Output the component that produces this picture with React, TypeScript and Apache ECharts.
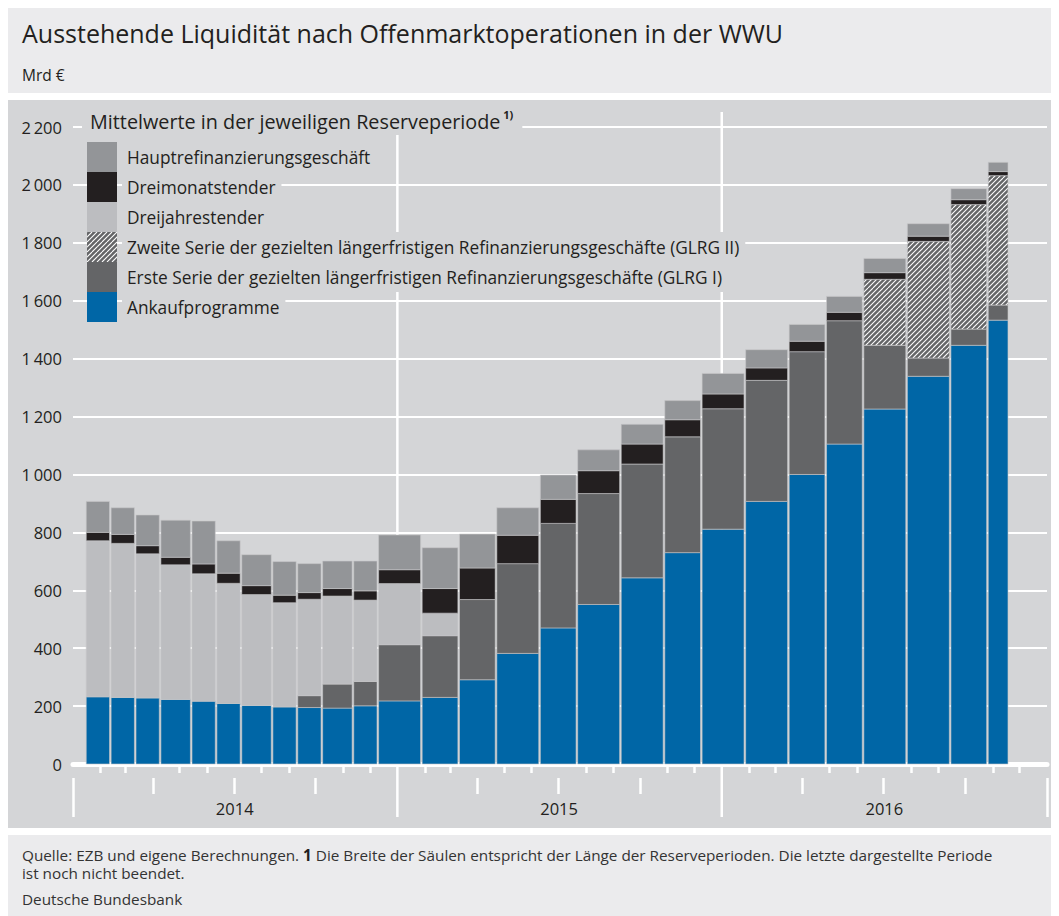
import React, { useEffect, useRef } from 'react';
import * as echarts from 'echarts';

// Reserve maintenance periods (first and last day)
const periodStart = [
  '2014-01-15', '2014-02-12', '2014-03-12', '2014-04-09', '2014-05-14', '2014-06-11',
  '2014-07-09', '2014-08-13', '2014-09-10', '2014-10-08', '2014-11-12', '2014-12-10',
  '2015-01-28', '2015-03-11', '2015-04-22', '2015-06-10', '2015-07-22', '2015-09-09',
  '2015-10-28', '2015-12-09', '2016-01-27', '2016-03-16', '2016-04-27', '2016-06-08',
  '2016-07-27', '2016-09-14', '2016-10-26',
];
const periodEnd = [
  '2014-02-11', '2014-03-11', '2014-04-08', '2014-05-13', '2014-06-10', '2014-07-08',
  '2014-08-12', '2014-09-09', '2014-10-07', '2014-11-11', '2014-12-09', '2015-01-27',
  '2015-03-10', '2015-04-21', '2015-06-09', '2015-07-21', '2015-09-08', '2015-10-27',
  '2015-12-08', '2016-01-26', '2016-03-15', '2016-04-26', '2016-06-07', '2016-07-26',
  '2016-09-13', '2016-10-25', '2016-11-18',
];

// Mrd € (averages per reserve period)
const ankaufprogramme = [
  232, 230, 228, 223, 217, 209, 202, 197, 195, 193, 201, 218,
  230, 291, 382, 470, 551, 643, 730, 811, 907, 1000, 1105, 1226, 1339, 1446, 1533,
];
const glrg1 = [
  0, 0, 0, 0, 0, 0, 0, 0, 41, 83, 84, 194,
  213, 277, 310, 361, 383, 393, 400, 416, 418, 424, 426, 220, 63, 56, 52,
];
const glrg2 = [
  0, 0, 0, 0, 0, 0, 0, 0, 0, 0, 0, 0,
  0, 0, 0, 0, 0, 0, 0, 0, 0, 0, 0, 228, 403, 430, 447,
];
const dreijahrestender = [
  539, 532, 498, 465, 440, 415, 383, 360, 333, 304, 281, 211,
  78, 0, 0, 0, 0, 0, 0, 0, 0, 0, 0, 0, 0, 0, 0,
];
const dreimonatstender = [
  29, 31, 28, 26, 34, 35, 31, 26, 23, 26, 32, 48,
  85, 109, 98, 83, 79, 69, 59, 51, 43, 36, 29, 23, 18, 17, 14,
];
const hauptrefinanzierung = [
  107, 92, 106, 128, 148, 112, 107, 116, 100, 95, 103, 120,
  141, 117, 95, 84, 72, 68, 66, 71, 63, 58, 55, 49, 43, 38, 32,
];

// bottom-to-top stacking order
const seriesNames = [
  'Ankaufprogramme',
  'Erste Serie der gezielten längerfristigen Refinanzierungsgeschäfte (GLRG I)',
  'Zweite Serie der gezielten längerfristigen Refinanzierungsgeschäfte (GLRG II)',
  'Dreijahrestender',
  'Dreimonatstender',
  'Hauptrefinanzierungsgeschäft',
];
const seriesValues = [ankaufprogramme, glrg1, glrg2, dreijahrestender, dreimonatstender, hauptrefinanzierung];
const solidColors = ['#0066a6', '#646567', null, '#bcbdc0', '#231f20', '#939598'];

const years = [2014, 2015, 2016];
const yearLabelDates = ['2014-07-02', '2015-07-02', '2016-07-02'];
const innerYearBoundaries = ['2015-01-01', '2016-01-01'];
const outerYearBoundaries = ['2014-01-01', '2017-01-01'];
const shortTickMonths = [2, 3, 5, 6, 8, 9, 11, 12];
const longTickMonths = [4, 7, 10];
const yMax = 2200;
const yInterval = 200;

const FONT = '"Open Sans", "Noto Sans", "DejaVu Sans", sans-serif';
const DAY = 86400000;

function toMs(s: string): number {
  const [y, m, d] = s.split('-').map(Number);
  return new Date(y, m - 1, d).getTime();
}

function monthTicks(months: number[]): number[] {
  const out: number[] = [];
  years.forEach((y) => months.forEach((m) => out.push(new Date(y, m - 1, 1).getTime())));
  return out;
}

function makeHatch() {
  const c = document.createElement('canvas');
  c.width = 10;
  c.height = 10;
  const ctx = c.getContext('2d')!;
  ctx.fillStyle = '#646567';
  ctx.fillRect(0, 0, 10, 10);
  ctx.strokeStyle = '#ffffff';
  ctx.lineWidth = 1.1;
  for (let k = -10; k <= 10; k += 5) {
    ctx.beginPath();
    ctx.moveTo(k, 10);
    ctx.lineTo(k + 10, 0);
    ctx.stroke();
  }
  return { image: c, repeat: 'repeat', imageWidth: 10, imageHeight: 10 } as any;
}

function fmtY(v: number): string {
  if (v >= 1000) {
    return Math.floor(v / 1000) + '\u2009' + String(v % 1000).padStart(3, '0');
  }
  return String(v);
}

function buildOption(hatch: any) {
  const xMin = toMs('2014-01-01');
  const xMax = toMs('2017-01-01');
  const colors = solidColors.map((c) => (c === null ? hatch : c));

  const cumulative = periodStart.map(() => 0);
  const barSeries = seriesNames.map((name, si) => {
    const vals = seriesValues[si];
    const data = periodStart.map((s, i) => {
      const bottom = cumulative[i];
      const top = bottom + vals[i];
      cumulative[i] = top;
      return [toMs(s), toMs(periodEnd[i]) + DAY, bottom, top];
    });
    const fill = colors[si];
    return {
      type: 'custom',
      name,
      z: 2,
      silent: true,
      itemStyle: { color: fill },
      encode: { x: [0, 1], y: [2, 3] },
      data,
      renderItem: (params: any, api: any) => {
        const b = api.value(2);
        const t = api.value(3);
        if (t - b <= 0) return null;
        const p0 = api.coord([api.value(0), t]);
        const p1 = api.coord([api.value(1), b]);
        return {
          type: 'rect',
          shape: { x: p0[0] + 0.8, y: p0[1], width: p1[0] - p0[0] - 1.6, height: p1[1] - p0[1] },
          style: { fill, stroke: '#c7c8ca', lineWidth: 0.6 },
        };
      },
    };
  });

  const yearLineSeries = {
    type: 'custom',
    name: 'Jahresgrenzen',
    z: 1,
    silent: true,
    clip: false,
    data: innerYearBoundaries.map((d) => [toMs(d), 0]),
    encode: { x: 0, y: 1 },
    renderItem: (params: any, api: any) => {
      const top = api.coord([api.value(0), yMax]);
      const bot = api.coord([api.value(0), 0]);
      return {
        type: 'line',
        shape: { x1: top[0], y1: top[1] - 15, x2: bot[0], y2: bot[1] + 53 },
        style: { stroke: '#ffffff', lineWidth: 2.5 },
      };
    },
  };

  const baseX = {
    type: 'value',
    gridIndex: 0,
    position: 'bottom',
    min: xMin,
    max: xMax,
    splitLine: { show: false },
    axisLine: { show: false },
    axisLabel: { show: false },
    axisTick: { show: false },
  };
  const tickStyle = { color: '#ffffff', width: 2.5 };

  return {
    animation: false,
    backgroundColor: '#ffffff',
    textStyle: { fontFamily: FONT },
    title: [
      {
        text: 'Ausstehende Liquidität nach Offenmarktoperationen in der WWU',
        left: 14,
        top: 12,
        padding: 0,
        textStyle: { fontFamily: FONT, fontSize: 25, fontWeight: 'normal', color: '#231f20' },
      },
      {
        text: 'Mrd €',
        left: 14,
        top: 59,
        padding: 0,
        textStyle: { fontFamily: FONT, fontSize: 15.5, fontWeight: 'normal', color: '#231f20' },
      },
      {
        text: 'Mittelwerte in der jeweiligen Reserveperiode{sup| 1)}',
        left: 74,
        top: 99,
        padding: [2, 9, 2, 8],
        backgroundColor: '#d4d5d7',
        textStyle: {
          fontFamily: FONT,
          fontSize: 19.8,
          fontWeight: 'normal',
          color: '#231f20',
          lineHeight: 24,
          rich: {
            sup: { fontFamily: FONT, fontSize: 11, fontWeight: 'bold', color: '#231f20', verticalAlign: 'top', lineHeight: 13 },
          },
        },
      },
    ],
    legend: {
      orient: 'vertical',
      left: 79,
      top: 134,
      padding: 0,
      itemGap: 0,
      itemWidth: 30,
      itemHeight: 30,
      icon: 'rect',
      selectedMode: false,
      itemStyle: { borderWidth: 0 },
      textStyle: {
        fontFamily: FONT,
        fontSize: 17.3,
        color: '#231f20',
        backgroundColor: '#d4d5d7',
        padding: [6, 6, 6, 5],
        lineHeight: 18,
      },
      data: seriesNames.slice().reverse(),
    },
    grid: { left: 65, right: 4, top: 119, bottom: 152 },
    xAxis: [
      {
        ...baseX,
        axisLine: { show: true, onZero: false, lineStyle: { color: '#ffffff', width: 5 } },
        axisLabel: {
          show: true,
          customValues: yearLabelDates.map(toMs),
          formatter: (v: number) => String(new Date(v).getFullYear()),
          margin: 36,
          fontFamily: FONT,
          fontSize: 16.5,
          color: '#231f20',
        },
      },
      { ...baseX, offset: 14, axisTick: { show: true, customValues: monthTicks(shortTickMonths), length: 9, lineStyle: tickStyle } },
      { ...baseX, offset: 14, axisTick: { show: true, customValues: monthTicks(longTickMonths), length: 16, lineStyle: tickStyle } },
      { ...baseX, offset: 14, axisTick: { show: true, customValues: outerYearBoundaries.map(toMs), length: 39, lineStyle: tickStyle } },
    ],
    yAxis: {
      type: 'value',
      min: 0,
      max: yMax,
      interval: yInterval,
      axisLine: { show: false },
      axisTick: { show: false },
      axisLabel: { formatter: fmtY, margin: 11, fontFamily: FONT, fontSize: 16.5, color: '#231f20' },
      splitLine: { show: true, lineStyle: { color: '#ffffff', width: 2 } },
    },
    graphic: [
      { type: 'rect', z: -10, silent: true, shape: { x: 0, y: 0, width: 1043, height: 85 }, style: { fill: '#ebebed' } },
      { type: 'rect', z: -10, silent: true, shape: { x: 0, y: 92, width: 1043, height: 728 }, style: { fill: '#d4d5d7' } },
      { type: 'rect', z: -10, silent: true, shape: { x: 0, y: 827, width: 1043, height: 81 }, style: { fill: '#ebebed' } },
      {
        type: 'text',
        x: 14,
        y: 847,
        silent: true,
        style: {
          text: 'Quelle: EZB und eigene Berechnungen. {b|1} Die Breite der Säulen entspricht der Länge der Reserveperioden. Die letzte dargestellte Periode',
          fontFamily: FONT,
          fontSize: 15.3,
          fill: '#333333',
          verticalAlign: 'middle',
          rich: { b: { fontFamily: FONT, fontSize: 15.3, fontWeight: 'bold', fill: '#231f20' } },
        },
      },
      {
        type: 'text',
        x: 14,
        y: 865,
        silent: true,
        style: { text: 'ist noch nicht beendet.', fontFamily: FONT, fontSize: 15.3, fill: '#333333', verticalAlign: 'middle' },
      },
      {
        type: 'text',
        x: 14,
        y: 891,
        silent: true,
        style: { text: 'Deutsche Bundesbank', fontFamily: FONT, fontSize: 15.3, fill: '#333333', verticalAlign: 'middle' },
      },
    ],
    series: [yearLineSeries, ...barSeries],
  };
}

export default function App() {
  const ref = useRef<HTMLDivElement>(null);
  useEffect(() => {
    document.documentElement.style.overflow = 'hidden';
    document.body.style.overflow = 'hidden';
    const chart = echarts.init(ref.current!, null, { renderer: 'svg' });
    chart.setOption(buildOption(makeHatch()) as any);
    return () => chart.dispose();
  }, []);
  return <div ref={ref} style={{ width: 1043, height: 908 }} />;
}
